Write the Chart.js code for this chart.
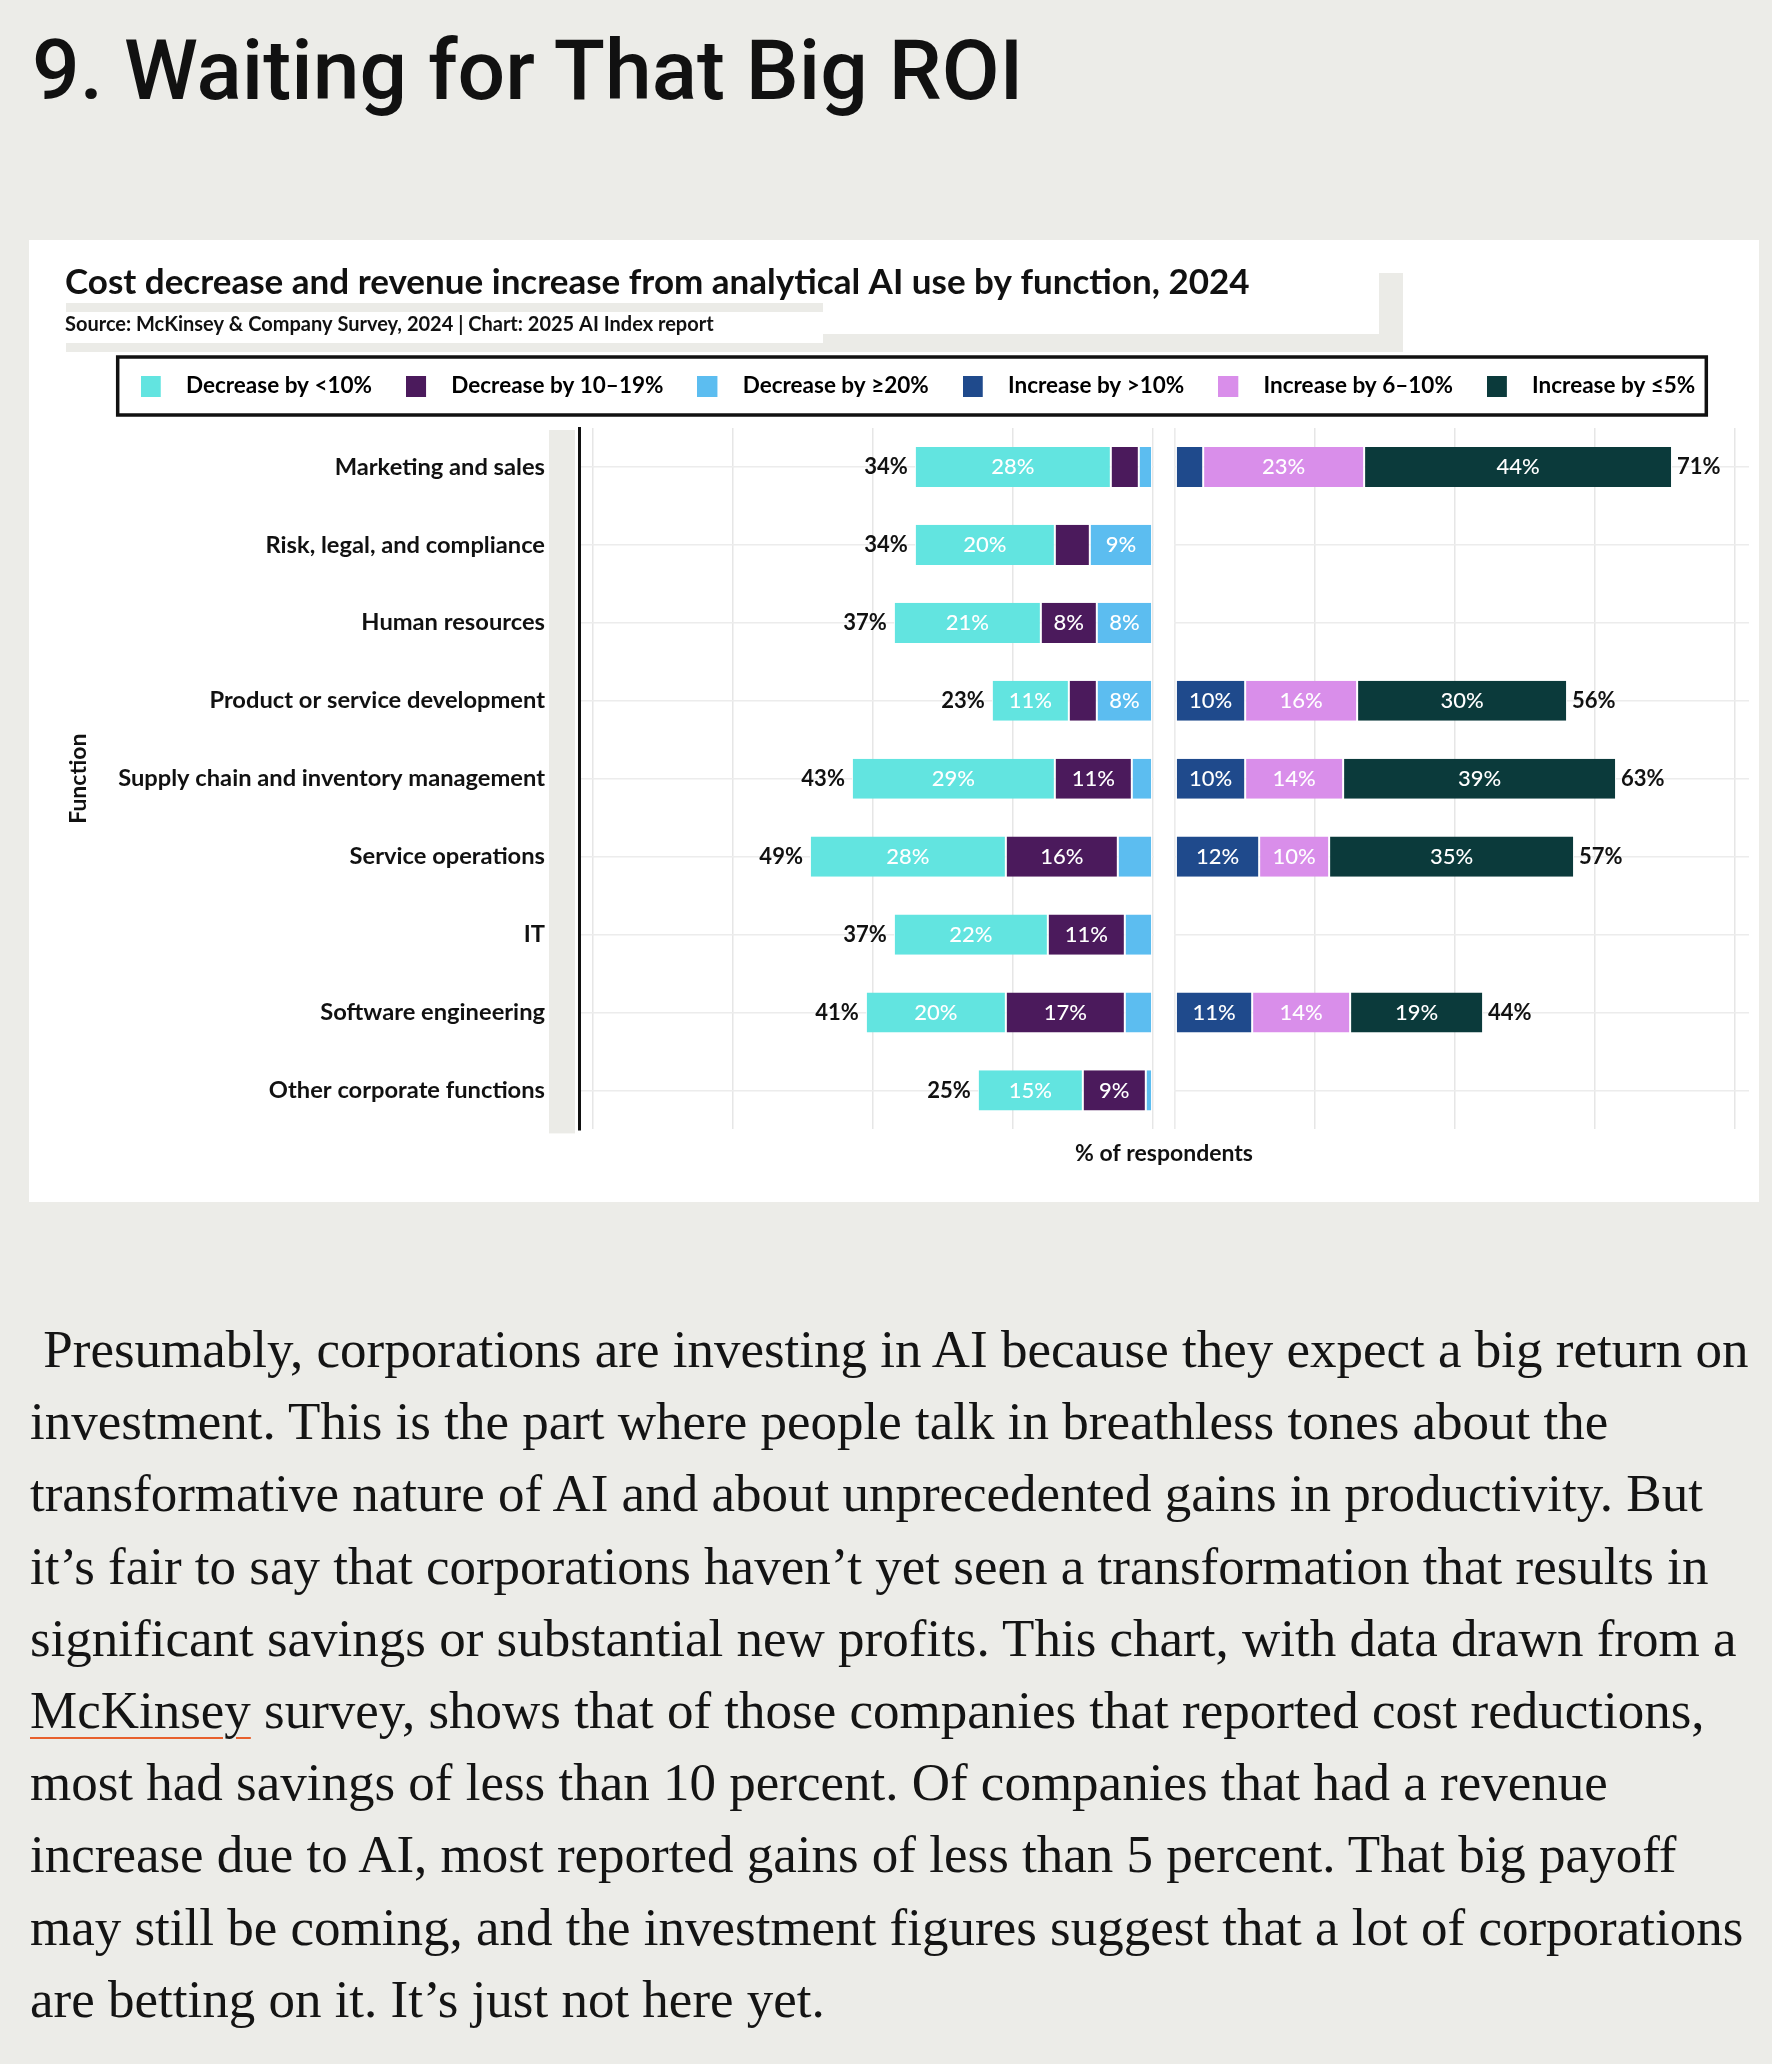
<!DOCTYPE html>
<html>
<head>
<meta charset="utf-8">
<title>Waiting for That Big ROI</title>
<script src="https://cdn.jsdelivr.net/npm/chart.js@4.4.1/dist/chart.umd.min.js"></script>
<style>
  body { margin: 0; background: #ecece8; width: 1772px; height: 2064px; position: relative; overflow: hidden; }
  h1 { position: absolute; left: 32px; top: 29px; margin: 0; font: 500 84px/1 Roboto, sans-serif; color: #111; white-space: nowrap; }
  .card { position: absolute; left: 29px; top: 240px; width: 1730px; height: 962px; background: #fff; }
  .smear { position: absolute; background: #ebebe7; }
  .chart-box { position: absolute; left: 0; top: 0; width: 1730px; height: 962px; }
  .body-text { position: absolute; left: 30px; top: 1313px; margin: 0; font: 53px/72.2px "Liberation Serif", serif; color: #141414; white-space: nowrap; }
  .body-text a { color: inherit; text-decoration: underline; text-decoration-color: #e8602c; text-decoration-thickness: 2px; text-underline-offset: 9px; }
</style>
</head>
<body>

<h1>9. Waiting for That Big ROI</h1>

<div class="card">
  <!-- grey smears left over from the screenshot -->
  <div class="smear" style="left:37px;top:63px;width:757px;height:9px"></div>
  <div class="smear" style="left:37px;top:103px;width:757px;height:9px"></div>
  <div class="smear" style="left:794px;top:94px;width:580px;height:18px"></div>
  <div class="smear" style="left:1350px;top:33px;width:24px;height:79px"></div>
  <div class="chart-box"><canvas id="chartRoi"></canvas></div>
</div>

<p class="body-text">&nbsp;Presumably, corporations are investing in AI because they expect a big return on<br>
investment. This is the part where people talk in breathless tones about the<br>
transformative nature of AI and about unprecedented gains in productivity. But<br>
it’s fair to say that corporations haven’t yet seen a transformation that results in<br>
significant savings or substantial new profits. This chart, with data drawn from a<br>
<a>McKinsey</a> survey, shows that of those companies that reported cost reductions,<br>
most had savings of less than 10 percent. Of companies that had a revenue<br>
increase due to AI, most reported gains of less than 5 percent. That big payoff<br>
may still be coming, and the investment figures suggest that a lot of corporations<br>
are betting on it. It’s just not here yet.</p>

<script>
var functions = ['Marketing and sales', 'Risk, legal, and compliance', 'Human resources',
  'Product or service development', 'Supply chain and inventory management', 'Service operations',
  'IT', 'Software engineering', 'Other corporate functions'];

// cost decrease, % of respondents
var decLt10   = [28, 20, 21, 11, 29, 28, 22, 20, 15];
var dec10to19 = [4, 5, 8, 4, 11, 16, 11, 17, 9];
var decGe20   = [2, 9, 8, 8, 3, 5, 4, 4, 1];
var decTotal  = [34, 34, 37, 23, 43, 49, 37, 41, 25];

// revenue increase, % of respondents
var incGt10   = [4, null, null, 10, 10, 12, null, 11, null];
var inc6to10  = [23, null, null, 16, 14, 10, null, 14, null];
var incLe5    = [44, null, null, 30, 39, 35, null, 19, null];
var incTotal  = [71, null, null, 56, 63, 57, null, 44, null];

var seriesNames  = ['Decrease by <10%', 'Decrease by 10–19%', 'Decrease by ≥20%',
  'Increase by >10%', 'Increase by 6–10%', 'Increase by ≤5%'];
var seriesColors = ['#62e4e0', '#4b1a5c', '#5cbdf0', '#1f4a8c', '#d98eea', '#0b3a3b'];
var gridValues   = [0, 20, 40, 60, 80];

var FONT = 'Lato';

function swatch(color) {
  var c = document.createElement('canvas');
  c.width = 34; c.height = 21;
  var g = c.getContext('2d');
  g.fillStyle = color;
  g.fillRect(0, 0, 20, 21);
  return c;
}

function barSet(label, data, color, axis) {
  return {
    label: label, data: data, backgroundColor: color,
    borderColor: '#ffffff', borderWidth: {left: 1, right: 1, top: 0, bottom: 0}, borderSkipped: false,
    xAxisID: axis, stack: 'row', categoryPercentage: 1, barPercentage: 0.515
  };
}

function panelAxis(min, weight, reverse) {
  return {
    type: 'linear', axis: 'x', position: 'bottom', stack: 'panels', stackWeight: weight,
    min: min, max: 82, reverse: reverse, stacked: true,
    grid: {color: '#e6e6e6', lineWidth: 1.5, drawTicks: false},
    border: {display: false},
    ticks: {display: false},
    afterBuildTicks: function(s) { s.ticks = gridValues.map(function(v) { return {value: v}; }); }
  };
}

var barLabels = {
  id: 'barLabels',
  afterDatasetsDraw: function(chart) {
    var ctx = chart.ctx;
    ctx.save();
    ctx.textBaseline = 'middle';
    chart.data.datasets.forEach(function(ds, i) {
      chart.getDatasetMeta(i).data.forEach(function(bar, j) {
        var v = ds.data[j];
        if (v == null || v < 8) return;
        ctx.font = '500 22px ' + FONT;
        ctx.fillStyle = '#ffffff';
        ctx.textAlign = 'center';
        ctx.fillText(v + '%', (bar.x + bar.base) / 2, bar.y);
      });
    });
    var decOuter = chart.getDatasetMeta(2).data;
    var incOuter = chart.getDatasetMeta(5).data;
    ctx.font = 'bold 22px ' + FONT;
    ctx.fillStyle = '#111';
    decTotal.forEach(function(t, j) {
      ctx.textAlign = 'right';
      ctx.fillText(t + '%', decOuter[j].x - 7, decOuter[j].y);
    });
    incTotal.forEach(function(t, j) {
      if (t == null) return;
      ctx.textAlign = 'left';
      ctx.fillText(t + '%', incOuter[j].x + 5, incOuter[j].y);
    });
    ctx.restore();
  }
};

var extras = {
  id: 'extras',
  afterLayout: function(chart) {
    chart.legend.left += 22;
  },
  beforeDraw: function(chart) {
    var a = chart.chartArea, ctx = chart.ctx;
    ctx.save();
    ctx.fillStyle = '#ebebe7';
    ctx.fillRect(a.left - 30, a.top + 2, 26, a.bottom - a.top + 2);
    ctx.restore();
  },
  beforeDatasetsDraw: function(chart) {
    // no row lines between the two panels
    var a = chart.chartArea, ctx = chart.ctx;
    var x0 = chart.scales.xDec.getPixelForValue(0), x1 = chart.scales.xInc.left;
    ctx.save();
    ctx.fillStyle = '#ffffff';
    ctx.fillRect(x0 + 1, a.top, x1 - x0 - 2, a.bottom - a.top);
    ctx.restore();
  },
  afterDraw: function(chart) {
    var lg = chart.legend, ctx = chart.ctx;
    var pad = lg.options.labels.padding;
    var start = (lg.left + pad + lg.right - lg.lineWidths[0]) / 2;
    var end = start + lg.lineWidths[0] - pad;
    var cy = lg.top + pad + lg.options.labels.font.size / 2;
    ctx.save();
    ctx.lineWidth = 3.5;
    ctx.strokeStyle = '#111';
    ctx.strokeRect(start - 23, cy - 29, end - start + 34, 58);
    ctx.restore();
  }
};

var swatches = seriesColors.map(swatch);

new Chart(document.getElementById('chartRoi').getContext('2d'), {
  type: 'bar',
  data: {
    labels: functions,
    datasets: [
      barSet(seriesNames[2], decGe20, seriesColors[2], 'xDec'),
      barSet(seriesNames[1], dec10to19, seriesColors[1], 'xDec'),
      barSet(seriesNames[0], decLt10, seriesColors[0], 'xDec'),
      barSet(seriesNames[3], incGt10, seriesColors[3], 'xInc'),
      barSet(seriesNames[4], inc6to10, seriesColors[4], 'xInc'),
      barSet(seriesNames[5], incLe5, seriesColors[5], 'xInc')
    ]
  },
  options: {
    indexAxis: 'y',
    responsive: true,
    maintainAspectRatio: false,
    animation: false,
    events: [],
    layout: {padding: {left: 36, right: 10, top: 0, bottom: 0}},
    plugins: {
      title: {
        display: true, align: 'start', color: '#111',
        text: 'Cost decrease and revenue increase from analytical AI use by function, 2024',
        font: {family: FONT, size: 35, weight: 'bold'},
        padding: {top: 22, bottom: 0}
      },
      subtitle: {
        display: true, align: 'start', color: '#111',
        text: 'Source: McKinsey & Company Survey, 2024 | Chart: 2025 AI Index report',
        font: {family: FONT, size: 20, weight: 'bold'},
        padding: {top: 9, bottom: 3.75}
      },
      legend: {
        position: 'top',
        labels: {
          usePointStyle: true, pointStyleWidth: 34, padding: 34, color: '#111',
          font: {family: FONT, size: 22.5, weight: 'bold'},
          generateLabels: function() {
            return seriesNames.map(function(n, i) {
              return {text: n, fillStyle: seriesColors[i], strokeStyle: seriesColors[i],
                lineWidth: 0, hidden: false, pointStyle: swatches[i], datasetIndex: i};
            });
          }
        }
      },
      tooltip: {enabled: false}
    },
    scales: {
      xDec: panelAxis(-3.2, 85.2, true),
      xInc: panelAxis(0, 82, false),
      xTitle: {
        type: 'linear', axis: 'x', position: 'bottom', weight: 1,
        grid: {display: false, drawTicks: false}, border: {display: false}, ticks: {display: false},
        title: {display: true, text: '% of respondents', color: '#111',
          font: {family: FONT, size: 23, weight: 'bold'}, padding: {top: 10, bottom: 35}}
      },
      xSpace: {
        type: 'linear', axis: 'x', position: 'top',
        grid: {display: false, drawTicks: false}, border: {display: false}, ticks: {display: false},
        title: {display: true, text: ' ', font: {size: 1}, padding: {top: 10, bottom: 9.55}}
      },
      y: {
        type: 'category', position: 'left', stacked: true,
        grid: {color: '#ececec', lineWidth: 1.5, offset: false, drawTicks: false},
        border: {display: true, color: '#111', width: 3},
        ticks: {color: '#111', padding: 34, autoSkip: false, font: {family: FONT, size: 23.7, weight: 'bold'}},
        title: {display: true, text: 'Function', color: '#111',
          font: {family: FONT, size: 23, weight: 'bold'}, padding: {top: 0, bottom: 0}},
        afterFit: function(s) { s.width = 514; }
      }
    }
  },
  plugins: [barLabels, extras]
});
</script>
</body>
</html>
